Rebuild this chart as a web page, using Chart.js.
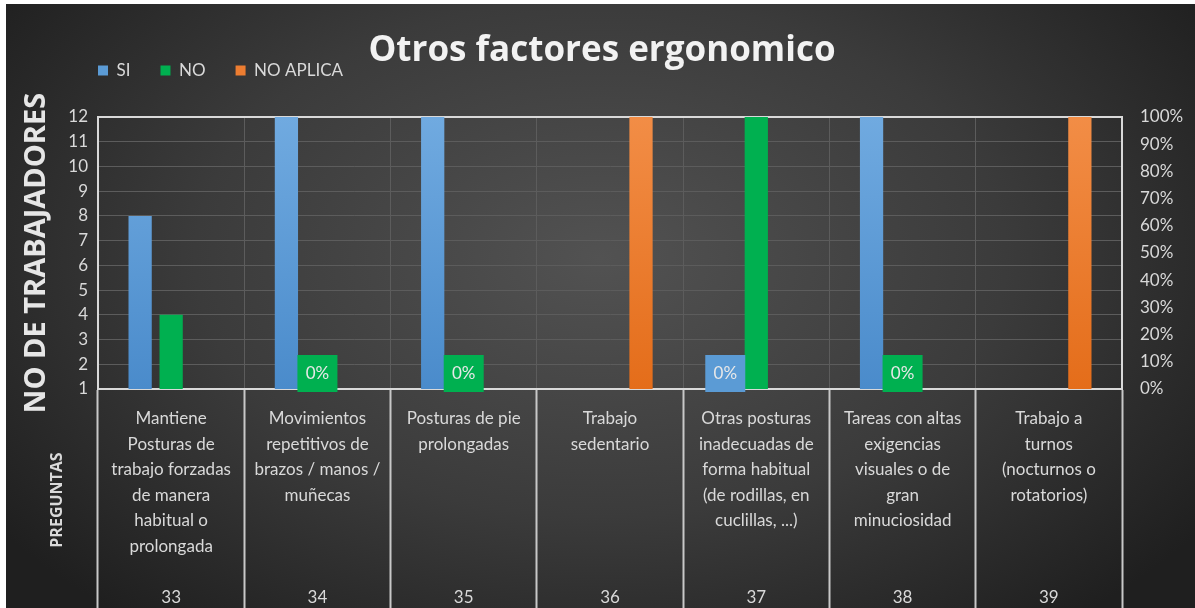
<!DOCTYPE html>
<html>
  <head>
    <meta charset="utf-8">
    <script src="https://cdn.jsdelivr.net/npm/chart.js"></script>
    <style>
      html, body {
        margin: 0;
        padding: 0;
        background: #ffffff;
      }
      .chart-box {
        position: absolute;
        left: 6px;
        top: 4px;
        width: 1189px;
        height: 604px;
        background: radial-gradient(ellipse 62% 78% at 50% 42%, #525252 0%, #3b3b3b 55%, #1f1f1f 100%);
      }
    </style>
  </head>
  <body>
    <div class="chart-box">
      <canvas id="ergoChart"></canvas>
    </div>

    <script>
      // datos
      var questionNumbers = ['33', '34', '35', '36', '37', '38', '39'];
      var questionTexts = [
        ['Mantiene', 'Posturas de', 'trabajo forzadas', 'de manera', 'habitual o', 'prolongada'],
        ['Movimientos', 'repetitivos de', 'brazos / manos /', 'muñecas'],
        ['Posturas de pie', 'prolongadas'],
        ['Trabajo', 'sedentario'],
        ['Otras posturas', 'inadecuadas de', 'forma habitual', '(de rodillas, en', 'cuclillas, ...)'],
        ['Tareas con altas', 'exigencias', 'visuales o de', 'gran', 'minuciosidad'],
        ['Trabajo a', 'turnos', '(nocturnos o', 'rotatorios)']
      ];
      var seriesNames = ['SI', 'NO', 'NO APLICA'];
      var siValues = [8, 12, 12, null, 0, 12, null];
      var noValues = [4, 0, 0, null, 12, 0, null];
      var noAplicaValues = [null, null, null, 12, null, null, 12];
      var leftTicks = [1, 12];
      var rightTicks = [0, 100];

      var textColor = '#d9d9d9';
      var lineColor = '#d9d9d9';
      var gridColor = '#5c5c5c';

      // texto de la pregunta arriba, numero abajo
      var labels = questionTexts.map(function(lines, i) {
        var out = lines.slice();
        while (out.length < 7) out.push('');
        out.push(questionNumbers[i]);
        return out;
      });

      function barFill(top, bottom) {
        return function(context) {
          var area = context.chart.chartArea;
          if (!area) return bottom;
          var g = context.chart.ctx.createLinearGradient(0, area.top, 0, area.bottom);
          g.addColorStop(0, top);
          g.addColorStop(1, bottom);
          return g;
        };
      }

      // etiquetas "0%" con fondo del color de la serie
      var zeroLabels = {
        id: 'zeroLabels',
        afterDatasetsDraw: function(chart) {
          var ctx = chart.ctx;
          var base = chart.scales.y.getPixelForValue(leftTicks[0]);
          chart.data.datasets.forEach(function(ds, i) {
            var meta = chart.getDatasetMeta(i);
            ds.data.forEach(function(v, j) {
              if (v !== 0) return;
              var x = meta.data[j].x;
              ctx.save();
              ctx.fillStyle = ds.labelColor;
              ctx.fillRect(x - 20, base - 34, 40, 37);
              ctx.fillStyle = '#e8e8e8';
              ctx.font = '17px Lato';
              ctx.textAlign = 'center';
              ctx.textBaseline = 'middle';
              ctx.fillText('0%', x, base - 15);
              ctx.restore();
            });
          });
        }
      };

      // titulo vertical del eje de categorias
      var sideTitle = {
        id: 'sideTitle',
        afterDraw: function(chart) {
          var ctx = chart.ctx;
          ctx.save();
          ctx.translate(51, 496);
          ctx.rotate(-Math.PI / 2);
          ctx.fillStyle = textColor;
          ctx.font = 'bold 16px "Open Sans"';
          ctx.textAlign = 'center';
          ctx.textBaseline = 'middle';
          ctx.fillText('PREGUNTAS', 0, 0);
          ctx.restore();
        }
      };

      // mover la leyenda arriba a la izquierda, junto al titulo
      var legendSpot = {
        id: 'legendSpot',
        afterLayout: function(chart) {
          var lg = chart.legend;
          var w = lg.right - lg.left;
          lg.left = chart.chartArea.left - 30;
          lg.right = lg.left + w;
          lg.top = 28;
        }
      };

      var ctx = document.getElementById('ergoChart').getContext('2d');
      new Chart(ctx, {
        type: 'bar',
        data: {
          labels: labels,
          datasets: [{
            label: seriesNames[0],
            data: siValues,
            backgroundColor: barFill('#70aae0', '#4a8bcb'),
            labelColor: '#5b9bd5'
          }, {
            label: seriesNames[1],
            data: noValues,
            backgroundColor: '#00b050',
            labelColor: '#00b050'
          }, {
            label: seriesNames[2],
            data: noAplicaValues,
            backgroundColor: barFill('#f28d46', '#e46d1a'),
            labelColor: '#ed7d31'
          }]
        },
        options: {
          responsive: true,
          maintainAspectRatio: false,
          animation: false,
          categoryPercentage: 0.636,
          barPercentage: 0.75,
          layout: {
            padding: { left: 13, right: 10, top: 0, bottom: 0 }
          },
          plugins: {
            tooltip: { enabled: false },
            title: {
              display: true,
              text: 'Otros factores ergonomico',
              color: '#f2f2f2',
              font: { family: 'Open Sans', size: 35, weight: 'bold', lineHeight: 1.2 },
              padding: { top: 26, bottom: 0 }
            },
            legend: {
              display: true,
              position: 'top',
              align: 'start',
              maxHeight: 45,
              labels: {
                color: textColor,
                font: { family: 'Lato', size: 17 },
                boxWidth: 10,
                boxHeight: 10,
                padding: 30,
                generateLabels: function(chart) {
                  var fills = ['#5b9bd5', '#00b050', '#ed7d31'];
                  return chart.data.datasets.map(function(ds, i) {
                    return {
                      text: ds.label,
                      fillStyle: fills[i],
                      strokeStyle: fills[i],
                      lineWidth: 0,
                      fontColor: textColor,
                      datasetIndex: i
                    };
                  });
                }
              }
            }
          },
          scales: {
            x: {
              offset: true,
              grid: {
                color: gridColor,
                lineWidth: 1,
                tickColor: '#c8c8c8',
                tickWidth: 2,
                tickLength: 230,
                offset: true
              },
              border: { display: true, color: lineColor, width: 2 },
              ticks: {
                color: textColor,
                font: { family: 'Lato', size: 17, lineHeight: 1.5 },
                padding: -213,
                maxRotation: 0,
                autoSkip: false
              },
              afterFit: function(scale) { scale.height = 219; }
            },
            y: {
              position: 'left',
              min: leftTicks[0],
              max: leftTicks[1],
              ticks: {
                stepSize: 1,
                color: textColor,
                font: { family: 'Lato', size: 17 },
                padding: 10
              },
              grid: {
                drawTicks: false,
                color: function(c) { return c.tick && c.tick.value === leftTicks[1] ? lineColor : gridColor; },
                lineWidth: function(c) { return c.tick && c.tick.value === leftTicks[1] ? 2 : 1; }
              },
              border: { display: true, color: lineColor, width: 2 },
              title: {
                display: true,
                text: 'NO DE TRABAJADORES',
                color: '#e6e6e6',
                font: { family: 'Open Sans', size: 29, weight: 'bold', lineHeight: 1.2 },
                padding: { top: 0, bottom: 5 }
              },
              afterFit: function(scale) { scale.width = 79; }
            },
            y1: {
              position: 'right',
              min: rightTicks[0],
              max: rightTicks[1],
              ticks: {
                stepSize: 10,
                color: textColor,
                font: { family: 'Lato', size: 17 },
                padding: 18,
                callback: function(v) { return v + '%'; }
              },
              grid: { drawOnChartArea: false, drawTicks: false },
              border: { display: true, color: lineColor, width: 2 },
              afterFit: function(scale) { scale.width = 63; }
            }
          }
        },
        plugins: [zeroLabels, sideTitle, legendSpot]
      });
    </script>
  </body>
</html>
